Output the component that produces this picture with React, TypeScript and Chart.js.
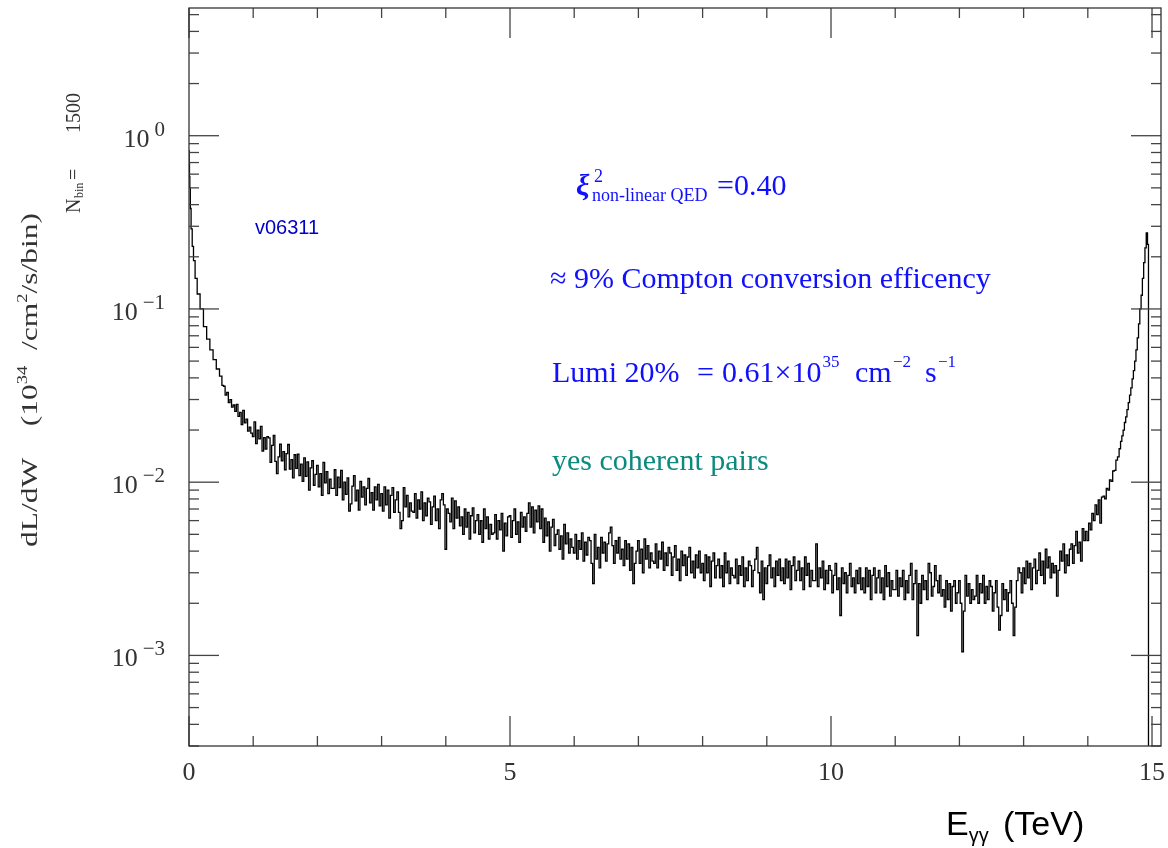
import React, { useEffect, useRef } from "react";
import { Chart, registerables } from "chart.js";

Chart.register(...registerables);

// ---------- data ----------
const energyTeV: number[] = [
  0, 0.005, 0.01, 0.016, 0.025, 0.04, 0.06, 0.08, 0.11, 0.145, 0.2, 0.25, 0.3, 0.35, 0.4, 0.45,
  0.5, 0.525, 0.55, 0.575, 0.6, 0.625, 0.65, 0.675, 0.7, 0.725,
  0.75, 0.775, 0.8, 0.825, 0.85, 0.875, 0.9, 0.925, 0.95, 0.975,
  1.0, 1.025, 1.05, 1.075, 1.1, 1.125, 1.15, 1.175, 1.2, 1.225,
  1.25, 1.275, 1.3, 1.325, 1.35, 1.375, 1.4, 1.425, 1.45, 1.475,
  1.5, 1.525, 1.55, 1.575, 1.6, 1.625, 1.65, 1.675, 1.7, 1.725,
  1.75, 1.775, 1.8, 1.825, 1.85, 1.875, 1.9, 1.925, 1.95, 1.975,
  2.0, 2.025, 2.05, 2.075, 2.1, 2.125, 2.15, 2.175, 2.2, 2.225,
  2.25, 2.275, 2.3, 2.325, 2.35, 2.375, 2.4, 2.425, 2.45, 2.475,
  2.5, 2.525, 2.55, 2.575, 2.6, 2.625, 2.65, 2.675, 2.7, 2.725,
  2.75, 2.775, 2.8, 2.825, 2.85, 2.875, 2.9, 2.925, 2.95, 2.975,
  3.0, 3.025, 3.05, 3.075, 3.1, 3.125, 3.15, 3.175, 3.2, 3.225,
  3.25, 3.275, 3.3, 3.325, 3.35, 3.375, 3.4, 3.425, 3.45, 3.475,
  3.5, 3.525, 3.55, 3.575, 3.6, 3.625, 3.65, 3.675, 3.7, 3.725,
  3.75, 3.775, 3.8, 3.825, 3.85, 3.875, 3.9, 3.925, 3.95, 3.975,
  4.0, 4.025, 4.05, 4.075, 4.1, 4.125, 4.15, 4.175, 4.2, 4.225,
  4.25, 4.275, 4.3, 4.325, 4.35, 4.375, 4.4, 4.425, 4.45, 4.475,
  4.5, 4.525, 4.55, 4.575, 4.6, 4.625, 4.65, 4.675, 4.7, 4.725,
  4.75, 4.775, 4.8, 4.825, 4.85, 4.875, 4.9, 4.925, 4.95, 4.975,
  5.0, 5.025, 5.05, 5.075, 5.1, 5.125, 5.15, 5.175, 5.2, 5.225,
  5.25, 5.275, 5.3, 5.325, 5.35, 5.375, 5.4, 5.425, 5.45, 5.475,
  5.5, 5.525, 5.55, 5.575, 5.6, 5.625, 5.65, 5.675, 5.7, 5.725,
  5.75, 5.775, 5.8, 5.825, 5.85, 5.875, 5.9, 5.925, 5.95, 5.975,
  6.0, 6.025, 6.05, 6.075, 6.1, 6.125, 6.15, 6.175, 6.2, 6.225,
  6.25, 6.275, 6.3, 6.325, 6.35, 6.375, 6.4, 6.425, 6.45, 6.475,
  6.5, 6.525, 6.55, 6.575, 6.6, 6.625, 6.65, 6.675, 6.7, 6.725,
  6.75, 6.775, 6.8, 6.825, 6.85, 6.875, 6.9, 6.925, 6.95, 6.975,
  7.0, 7.025, 7.05, 7.075, 7.1, 7.125, 7.15, 7.175, 7.2, 7.225,
  7.25, 7.275, 7.3, 7.325, 7.35, 7.375, 7.4, 7.425, 7.45, 7.475,
  7.5, 7.525, 7.55, 7.575, 7.6, 7.625, 7.65, 7.675, 7.7, 7.725,
  7.75, 7.775, 7.8, 7.825, 7.85, 7.875, 7.9, 7.925, 7.95, 7.975,
  8.0, 8.025, 8.05, 8.075, 8.1, 8.125, 8.15, 8.175, 8.2, 8.225,
  8.25, 8.275, 8.3, 8.325, 8.35, 8.375, 8.4, 8.425, 8.45, 8.475,
  8.5, 8.525, 8.55, 8.575, 8.6, 8.625, 8.65, 8.675, 8.7, 8.725,
  8.75, 8.775, 8.8, 8.825, 8.85, 8.875, 8.9, 8.925, 8.95, 8.975,
  9.0, 9.025, 9.05, 9.075, 9.1, 9.125, 9.15, 9.175, 9.2, 9.225,
  9.25, 9.275, 9.3, 9.325, 9.35, 9.375, 9.4, 9.425, 9.45, 9.475,
  9.5, 9.525, 9.55, 9.575, 9.6, 9.625, 9.65, 9.675, 9.7, 9.725,
  9.75, 9.775, 9.8, 9.825, 9.85, 9.875, 9.9, 9.925, 9.95, 9.975,
  10.0, 10.025, 10.05, 10.075, 10.1, 10.125, 10.15, 10.175, 10.2, 10.225,
  10.25, 10.275, 10.3, 10.325, 10.35, 10.375, 10.4, 10.425, 10.45, 10.475,
  10.5, 10.525, 10.55, 10.575, 10.6, 10.625, 10.65, 10.675, 10.7, 10.725,
  10.75, 10.775, 10.8, 10.825, 10.85, 10.875, 10.9, 10.925, 10.95, 10.975,
  11.0, 11.025, 11.05, 11.075, 11.1, 11.125, 11.15, 11.175, 11.2, 11.225,
  11.25, 11.275, 11.3, 11.325, 11.35, 11.375, 11.4, 11.425, 11.45, 11.475,
  11.5, 11.525, 11.55, 11.575, 11.6, 11.625, 11.65, 11.675, 11.7, 11.725,
  11.75, 11.775, 11.8, 11.825, 11.85, 11.875, 11.9, 11.925, 11.95, 11.975,
  12.0, 12.025, 12.05, 12.075, 12.1, 12.125, 12.15, 12.175, 12.2, 12.225,
  12.25, 12.275, 12.3, 12.325, 12.35, 12.375, 12.4, 12.425, 12.45, 12.475,
  12.5, 12.525, 12.55, 12.575, 12.6, 12.625, 12.65, 12.675, 12.7, 12.725,
  12.75, 12.775, 12.8, 12.825, 12.85, 12.875, 12.9, 12.925, 12.95, 12.975,
  13.0, 13.025, 13.05, 13.075, 13.1, 13.125, 13.15, 13.175, 13.2, 13.225,
  13.25, 13.275, 13.3, 13.325, 13.35, 13.375, 13.4, 13.425, 13.45, 13.475,
  13.5, 13.525, 13.55, 13.575, 13.6, 13.625, 13.65, 13.675, 13.7, 13.725,
  13.75, 13.775, 13.8, 13.825, 13.85, 13.875, 13.9, 13.925, 13.95, 13.975,
  14.0, 14.025, 14.05, 14.075, 14.1, 14.125, 14.15, 14.175, 14.2, 14.225,
  14.25, 14.275, 14.3, 14.325, 14.35, 14.375, 14.4, 14.425, 14.45, 14.475,
  14.5, 14.52, 14.54, 14.56, 14.58, 14.6, 14.62, 14.64, 14.66, 14.68,
  14.7, 14.72, 14.74, 14.76, 14.78, 14.8, 14.82, 14.84, 14.86, 14.88,
  14.9, 14.92, 14.94, 14.95,
];

// dL/dW per bin, 10^34 /cm^2/s/bin (last bin empty -> far below the axis)
const dLdW: number[] = [
  0.82, 0.70, 0.58, 0.50, 0.38, 0.29, 0.23, 0.19, 0.15, 0.122, 0.100, 0.079, 0.067, 0.058, 0.051, 0.045,
  0.0410, 0.0362, 0.0358, 0.0318, 0.0330, 0.0288, 0.0300, 0.0271, 0.0279, 0.0256,
  0.0281, 0.0240, 0.0253, 0.0215, 0.0260, 0.0220, 0.0231, 0.0197, 0.0208, 0.0192,
  0.0183, 0.0223, 0.0167, 0.0200, 0.0178, 0.0210, 0.0151, 0.0181, 0.0155, 0.0183,
  0.0180, 0.0130, 0.0163, 0.0186, 0.0132, 0.0112, 0.0140, 0.0166, 0.0133, 0.0150,
  0.0118, 0.0146, 0.0165, 0.0119, 0.0135, 0.0106, 0.0144, 0.0120, 0.0145, 0.0109,
  0.0127, 0.0101, 0.0138, 0.0108, 0.0131, 0.0090, 0.0121, 0.0133, 0.0096, 0.0111,
  0.0125, 0.0094, 0.0112, 0.0084, 0.0130, 0.0099, 0.0115, 0.0086, 0.0104, 0.0092,
  0.0092, 0.0118, 0.0084, 0.0107, 0.0093, 0.0117, 0.0079, 0.0100, 0.0085, 0.0106,
  0.0068, 0.0075, 0.0095, 0.0109, 0.0078, 0.0090, 0.0069, 0.0101, 0.0082, 0.0094,
  0.0074, 0.0092, 0.0105, 0.0076, 0.0087, 0.0069, 0.0094, 0.0079, 0.0097, 0.0073,
  0.0086, 0.0068, 0.0094, 0.0074, 0.0090, 0.0062, 0.0084, 0.0093, 0.0067, 0.0079,
  0.0088, 0.0067, 0.0054, 0.0060, 0.0093, 0.0072, 0.0084, 0.0063, 0.0076, 0.0068,
  0.0067, 0.0086, 0.0062, 0.0079, 0.0070, 0.0088, 0.0060, 0.0076, 0.0064, 0.0081,
  0.0077, 0.0057, 0.0072, 0.0083, 0.0060, 0.0070, 0.0054, 0.0079, 0.0086, 0.0074,
  0.0041, 0.0070, 0.0066, 0.0059, 0.0081, 0.0054, 0.0078, 0.0062, 0.0072, 0.0056,
  0.0063, 0.0050, 0.0070, 0.0055, 0.0067, 0.0047, 0.0064, 0.0071, 0.0051, 0.0060,
  0.0065, 0.0050, 0.0060, 0.0045, 0.0070, 0.0054, 0.0063, 0.0047, 0.0057, 0.0050,
  0.0051, 0.0065, 0.0047, 0.0060, 0.0053, 0.0066, 0.0040, 0.0058, 0.0049, 0.0063,
  0.0064, 0.0048, 0.0060, 0.0070, 0.0050, 0.0059, 0.0045, 0.0067, 0.0055, 0.0063,
  0.0052, 0.0066, 0.0076, 0.0055, 0.0072, 0.0051, 0.0069, 0.0059, 0.0073, 0.0054,
  0.0070, 0.0045, 0.0062, 0.0049, 0.0059, 0.0040, 0.0055, 0.0061, 0.0043, 0.0050,
  0.0053, 0.0041, 0.0049, 0.0036, 0.0057, 0.0044, 0.0051, 0.0039, 0.0047, 0.0042,
  0.0039, 0.0050, 0.0036, 0.0046, 0.0041, 0.0051, 0.0035, 0.0045, 0.0038, 0.0048,
  0.0046, 0.0034, 0.0026, 0.0050, 0.0036, 0.0042, 0.0032, 0.0048, 0.0039, 0.0045,
  0.0035, 0.0044, 0.0051, 0.0055, 0.0043, 0.0034, 0.0046, 0.0039, 0.0048, 0.0036,
  0.0041, 0.0033, 0.0046, 0.0036, 0.0044, 0.0031, 0.0042, 0.0026, 0.0034, 0.0040,
  0.0046, 0.0034, 0.0041, 0.0030, 0.0047, 0.0036, 0.0043, 0.0032, 0.0039, 0.0035,
  0.0034, 0.0044, 0.0032, 0.0040, 0.0036, 0.0045, 0.0031, 0.0039, 0.0033, 0.0042,
  0.0039, 0.0029, 0.0037, 0.0043, 0.0031, 0.0036, 0.0027, 0.0040, 0.0033, 0.0038,
  0.0029, 0.0037, 0.0042, 0.0030, 0.0035, 0.0028, 0.0038, 0.0032, 0.0040, 0.0030,
  0.0034, 0.0027, 0.0038, 0.0030, 0.0037, 0.0025, 0.0035, 0.0039, 0.0028, 0.0033,
  0.0036, 0.0028, 0.0033, 0.0025, 0.0039, 0.0030, 0.0035, 0.0026, 0.0032, 0.0029,
  0.0028, 0.0036, 0.0026, 0.0033, 0.0029, 0.0037, 0.0025, 0.0032, 0.0027, 0.0035,
  0.0033, 0.0025, 0.0031, 0.0036, 0.0042, 0.0030, 0.0023, 0.0035, 0.0021, 0.0032,
  0.0026, 0.0033, 0.0038, 0.0028, 0.0032, 0.0025, 0.0035, 0.0029, 0.0036, 0.0027,
  0.0032, 0.0026, 0.0036, 0.0028, 0.0035, 0.0024, 0.0033, 0.0037, 0.0027, 0.0031,
  0.0035, 0.0027, 0.0032, 0.0024, 0.0037, 0.0029, 0.0034, 0.0025, 0.0031, 0.0027,
  0.0027, 0.0044, 0.0025, 0.0032, 0.0028, 0.0035, 0.0024, 0.0031, 0.0026, 0.0033,
  0.0031, 0.0023, 0.0029, 0.0034, 0.0024, 0.0028, 0.0017, 0.0032, 0.0026, 0.0030,
  0.0023, 0.0029, 0.0034, 0.0025, 0.0028, 0.0023, 0.0031, 0.0026, 0.0032, 0.0024,
  0.0028, 0.0023, 0.0032, 0.0025, 0.0031, 0.0021, 0.0029, 0.0032, 0.0023, 0.0028,
  0.0031, 0.0023, 0.0028, 0.0021, 0.0033, 0.0025, 0.0030, 0.0022, 0.0027, 0.0024,
  0.0024, 0.0031, 0.0022, 0.0028, 0.0025, 0.0031, 0.0021, 0.0027, 0.0023, 0.0029,
  0.0034, 0.0021, 0.0026, 0.0031, 0.0013, 0.0026, 0.0020, 0.0029, 0.0024, 0.0027,
  0.0021, 0.0034, 0.0030, 0.0022, 0.0025, 0.0033, 0.0027, 0.0023, 0.0029, 0.0022,
  0.0024, 0.0019, 0.0027, 0.0021, 0.0026, 0.0018, 0.0025, 0.0027, 0.0020, 0.0023,
  0.0027, 0.0020, 0.00105, 0.0018, 0.0029, 0.0022, 0.0026, 0.0020, 0.0024, 0.0021,
  0.0022, 0.0029, 0.0020, 0.0026, 0.0023, 0.0029, 0.0020, 0.0025, 0.0021, 0.0027,
  0.0025, 0.0018, 0.0023, 0.0027, 0.0019, 0.0014, 0.0017, 0.0026, 0.0021, 0.0024,
  0.0018, 0.0023, 0.0027, 0.0020, 0.0013, 0.0019, 0.0027, 0.0032, 0.0030, 0.0023,
  0.0032, 0.0026, 0.0035, 0.0028, 0.0034, 0.0024, 0.0032, 0.0036, 0.0026, 0.0031,
  0.0039, 0.0029, 0.0035, 0.0026, 0.0041, 0.0032, 0.0037, 0.0028, 0.0034, 0.0030,
  0.0033, 0.0022, 0.0031, 0.0040, 0.0035, 0.0044, 0.0030, 0.0038, 0.0033, 0.0041,
  0.0044, 0.0034, 0.0043, 0.0052, 0.0039, 0.0045, 0.0035, 0.0054, 0.0046, 0.0052,
  0.0046, 0.0058, 0.0053, 0.0066, 0.0060, 0.0074, 0.0065, 0.0079, 0.0058, 0.0082,
  0.0083, 0.0080, 0.0092, 0.0090, 0.0103, 0.0101, 0.0116, 0.0117, 0.0134, 0.0140,
  0.0156, 0.0172, 0.0185, 0.0200, 0.0221, 0.0238, 0.0262, 0.0288, 0.0318, 0.035,
  0.0395, 0.044, 0.050, 0.058, 0.068, 0.082, 0.100, 0.120, 0.150, 0.185,
  0.225, 0.275, 0.236, 1e-5,
];

const xRange = [0, 15.14];
const yRange = [3.31e-4, 5.46];
const xMajorTicks = [0, 5, 10, 15];
const xMajorTickLabels = ["0", "5", "10", "15"];
const xMinorTicks = [1, 2, 3, 4, 6, 7, 8, 9, 11, 12, 13, 14];
const yDecadeExponents = [-3, -2, -1, 0];
const yDecadeExponentLabels = ["\u22123", "\u22122", "\u22121", "0"];
const yMinorDecades = [-4, -3, -2, -1, 0];
const yMinorMantissas = [2, 3, 4, 5, 6, 7, 8, 9];

const SERIF = '"Liberation Serif", "Times New Roman", serif';
const SANS = '"Liberation Sans", Arial, sans-serif';

type Run = { t: string; s: number; dy?: number; style?: string };

function runsWidth(ctx: CanvasRenderingContext2D, runs: Run[], family: string) {
  let w = 0;
  for (const r of runs) {
    ctx.font = `${r.style ?? ""} ${r.s}px ${family}`;
    w += ctx.measureText(r.t).width;
  }
  return w;
}

function drawRuns(ctx: CanvasRenderingContext2D, runs: Run[], x: number, y: number, family: string) {
  let cx = x;
  for (const r of runs) {
    ctx.font = `${r.style ?? ""} ${r.s}px ${family}`;
    ctx.fillText(r.t, cx, y + (r.dy ?? 0));
    cx += ctx.measureText(r.t).width;
  }
  return cx;
}

const decorPlugin = {
  id: "decor",
  afterDraw(chart: any) {
    const { ctx, chartArea: a } = chart;
    const xs = chart.scales.x;
    const ys = chart.scales.y;
    ctx.save();
    ctx.textBaseline = "alphabetic";
    ctx.textAlign = "left";

    // ticks (inward, on all four sides)
    ctx.strokeStyle = "#444";
    ctx.lineWidth = 1.3;
    const line = (x1: number, y1: number, x2: number, y2: number) => {
      ctx.beginPath();
      ctx.moveTo(x1, y1);
      ctx.lineTo(x2, y2);
      ctx.stroke();
    };
    for (const e of yDecadeExponents) {
      const py = ys.getPixelForValue(Math.pow(10, e));
      line(a.left, py, a.left + 30, py);
      line(a.right - 30, py, a.right, py);
    }
    for (const d of yMinorDecades) {
      for (const m of yMinorMantissas) {
        const v = m * Math.pow(10, d);
        if (v <= ys.min || v >= ys.max) continue;
        const py = ys.getPixelForValue(v);
        line(a.left, py, a.left + 10, py);
        line(a.right - 10, py, a.right, py);
      }
    }
    for (const t of xMajorTicks) {
      const px = xs.getPixelForValue(t);
      line(px, a.bottom, px, a.bottom - 30);
      line(px, a.top, px, a.top + 30);
    }
    for (const t of xMinorTicks) {
      const px = xs.getPixelForValue(t);
      line(px, a.bottom, px, a.bottom - 10);
      line(px, a.top, px, a.top + 10);
    }

    // frame
    ctx.strokeStyle = "#333";
    ctx.lineWidth = 1.3;
    ctx.strokeRect(a.left, a.top, a.right - a.left, a.bottom - a.top);

    // y tick labels 10^n
    ctx.fillStyle = "#333";
    yDecadeExponents.forEach((e, i) => {
      const py = ys.getPixelForValue(Math.pow(10, e));
      const expTxt = yDecadeExponentLabels[i];
      ctx.font = `21px ${SERIF}`;
      const wExp = ctx.measureText(expTxt).width;
      ctx.font = `26px ${SERIF}`;
      const wBase = ctx.measureText("10").width;
      const expX = 165 - wExp;
      const baseX = expX - 5 - wBase;
      ctx.fillText("10", baseX, py + 11);
      ctx.font = `21px ${SERIF}`;
      ctx.fillText(expTxt, expX, py);
    });

    // x tick labels
    ctx.textAlign = "center";
    ctx.font = `26px ${SERIF}`;
    xMajorTicks.forEach((t, i) => {
      ctx.fillText(xMajorTickLabels[i], xs.getPixelForValue(t), 780);
    });
    ctx.textAlign = "left";

    // y axis title (rotated)
    ctx.fillStyle = "#333";
    {
      const runs: Run[] = [
        { t: "dL/dW", s: 24 },
        { t: "    (10", s: 24 },
        { t: "34", s: 14, dy: -10 },
        { t: "  /cm", s: 24 },
        { t: "2", s: 14, dy: -10 },
        { t: "/s/bin)", s: 24 },
      ];
      ctx.save();
      ctx.translate(37, 547);
      ctx.rotate(-Math.PI / 2);
      const w = runsWidth(ctx, runs, SERIF);
      ctx.scale(334 / w, 1);
      drawRuns(ctx, runs, 0, 0, SERIF);
      ctx.restore();
    }

    // N_bin = 1500 (rotated)
    {
      ctx.save();
      ctx.translate(80, 213);
      ctx.rotate(-Math.PI / 2);
      ctx.font = `20px ${SERIF}`;
      ctx.fillText("N", 0, 0);
      ctx.font = `12px ${SERIF}`;
      ctx.fillText("bin", 15, 3);
      ctx.font = `20px ${SERIF}`;
      ctx.fillText("=", 33, 0);
      ctx.fillText("1500", 80, 0);
      ctx.restore();
    }

    // x axis title
    ctx.fillStyle = "#000";
    ctx.font = `34px ${SANS}`;
    ctx.fillText("E", 946, 835);
    const wE = ctx.measureText("E").width;
    ctx.font = `20px ${SANS}`;
    ctx.fillText("\u03b3\u03b3", 946 + wE, 842);
    ctx.font = `34px ${SANS}`;
    ctx.fillText("(TeV)", 1003, 835);

    // annotations
    ctx.fillStyle = "#0000c8";
    ctx.font = `20px ${SANS}`;
    ctx.fillText("v06311", 255, 234);

    ctx.fillStyle = "#1010ff";
    ctx.font = `italic bold 30px ${SERIF}`;
    ctx.fillText("\u03be", 576, 195);
    ctx.font = `18px ${SERIF}`;
    ctx.fillText("2", 594, 182);
    ctx.fillText("non-linear QED", 592, 201);
    ctx.font = `30px ${SERIF}`;
    ctx.fillText("=0.40", 717, 195);

    ctx.font = `30px ${SERIF}`;
    ctx.fillText("\u2248 9% Compton conversion efficency", 550, 288);

    ctx.font = `30px ${SERIF}`;
    ctx.fillText("Lumi 20%", 552, 382);
    ctx.fillText("=", 697, 382);
    ctx.fillText("0.61\u00d710", 722, 382);
    const wNum = ctx.measureText("0.61\u00d710").width;
    ctx.fillText("cm", 855, 382);
    ctx.fillText("s", 925, 382);
    ctx.font = `17px ${SERIF}`;
    ctx.fillText("35", 722 + wNum + 1, 367);
    ctx.fillText("\u22122", 893, 367);
    ctx.fillText("\u22121", 938, 367);

    ctx.fillStyle = "#0b8a80";
    ctx.font = `30px ${SERIF}`;
    ctx.fillText("yes coherent pairs", 552, 470);

    ctx.restore();
  },
};

export default function App() {
  const ref = useRef<HTMLCanvasElement>(null);
  useEffect(() => {
    if (!ref.current) return;
    const points = energyTeV.map((e, i) => ({ x: e, y: dLdW[i] }));
    const chart = new Chart(ref.current, {
      type: "line",
      data: {
        datasets: [
          {
            data: points,
            borderColor: "#000",
            borderWidth: 1.3,
            pointRadius: 0,
            stepped: "middle",
            fill: false,
          },
        ],
      },
      options: {
        animation: false,
        responsive: false,
        maintainAspectRatio: false,
        layout: { padding: { left: 189, top: 8, right: 7, bottom: 102 } },
        scales: {
          x: { type: "linear", min: xRange[0], max: xRange[1], display: false },
          y: { type: "logarithmic", min: yRange[0], max: yRange[1], display: false },
        },
        plugins: { legend: { display: false }, tooltip: { enabled: false } },
      },
      plugins: [decorPlugin],
    } as any);
    return () => chart.destroy();
  }, []);
  return (
    <div style={{ position: "fixed", left: 0, top: 0, width: 1168, height: 848, background: "#fff" }}>
      <canvas ref={ref} width={1168} height={848} style={{ display: "block", width: 1168, height: 848 }} />
    </div>
  );
}
